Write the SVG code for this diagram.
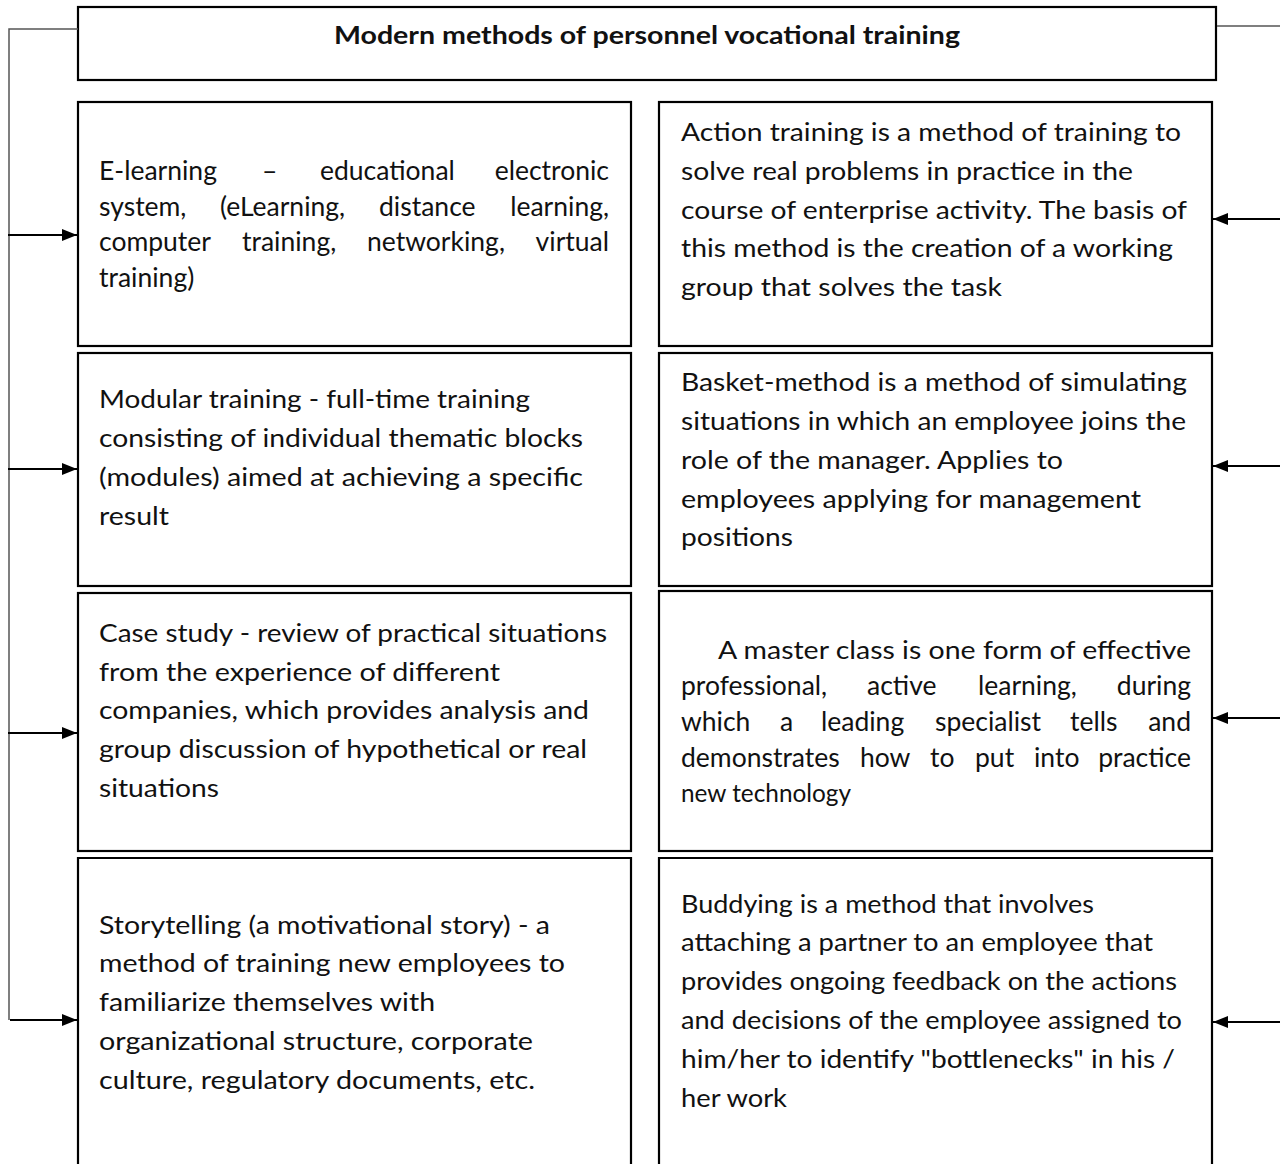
<svg xmlns="http://www.w3.org/2000/svg" width="1280" height="1164" viewBox="0 0 1280 1164">
<style>
.box{fill:#fff;stroke:#000;stroke-width:2.2}
.t{font-family:Lato,"Open Sans","Liberation Sans",sans-serif;font-size:25.5px;fill:#111}
.j{font-family:Lato,"Open Sans","Liberation Sans",sans-serif;font-size:26.5px;fill:#111}
.title{font-family:Lato,"Open Sans","Liberation Sans",sans-serif;font-size:24px;font-weight:bold;fill:#111}
.conn{stroke:#555;stroke-width:1.5;fill:none}
.arr{stroke:#000;stroke-width:2;fill:none}
</style>
<defs>
<marker id="ah" markerWidth="16" markerHeight="12" refX="15" refY="6" orient="auto" markerUnits="userSpaceOnUse">
<path d="M0,0 L15,6 L0,12 Z" fill="#000"/>
</marker>
</defs>
<rect width="1280" height="1164" fill="#fff"/>
<g id="title">
<rect class="box" x="78" y="7" width="1138" height="73"/>
<text class="title" x="647" y="44" text-anchor="middle" textLength="626" lengthAdjust="spacingAndGlyphs">Modern methods of personnel vocational training</text>
</g>
<g id="elearning">
<rect class="box" x="78" y="102" width="553" height="244"/>
<text class="j"><tspan x="99" y="180">E-learning</tspan><tspan x="262" y="180">–</tspan><tspan x="320" y="180">educational</tspan><tspan x="609" y="180" text-anchor="end">electronic</tspan></text>
<text class="j"><tspan x="99" y="216">system,</tspan><tspan x="220" y="216">(eLearning,</tspan><tspan x="379" y="216">distance</tspan><tspan x="609" y="216" text-anchor="end">learning,</tspan></text>
<text class="j"><tspan x="99" y="251">computer</tspan><tspan x="242" y="251">training,</tspan><tspan x="367" y="251">networking,</tspan><tspan x="609" y="251" text-anchor="end">virtual</tspan></text>
<text class="j" x="99" y="287">training)</text>
</g>
<g id="action">
<rect class="box" x="659" y="102" width="553" height="244"/>
<text class="t" x="681" y="141" textLength="500" lengthAdjust="spacingAndGlyphs">Action training is a method of training to</text>
<text class="t" x="681" y="180" textLength="452" lengthAdjust="spacingAndGlyphs">solve real problems in practice in the</text>
<text class="t" x="681" y="219" textLength="506" lengthAdjust="spacingAndGlyphs">course of enterprise activity. The basis of</text>
<text class="t" x="681" y="257" textLength="492" lengthAdjust="spacingAndGlyphs">this method is the creation of a working</text>
<text class="t" x="681" y="296" textLength="321" lengthAdjust="spacingAndGlyphs">group that solves the task</text>
</g>
<g id="modular">
<rect class="box" x="78" y="353" width="553" height="233"/>
<text class="t" x="99" y="408" textLength="431" lengthAdjust="spacingAndGlyphs">Modular training - full-time training</text>
<text class="t" x="99" y="447" textLength="484" lengthAdjust="spacingAndGlyphs">consisting of individual thematic blocks</text>
<text class="t" x="99" y="486" textLength="484" lengthAdjust="spacingAndGlyphs">(modules) aimed at achieving a specific</text>
<text class="t" x="99" y="525" textLength="70" lengthAdjust="spacingAndGlyphs">result</text>
</g>
<g id="basket">
<rect class="box" x="659" y="353" width="553" height="233"/>
<text class="t" x="681" y="391" textLength="506" lengthAdjust="spacingAndGlyphs">Basket-method is a method of simulating</text>
<text class="t" x="681" y="430" textLength="505" lengthAdjust="spacingAndGlyphs">situations in which an employee joins the</text>
<text class="t" x="681" y="469" textLength="382" lengthAdjust="spacingAndGlyphs">role of the manager. Applies to</text>
<text class="t" x="681" y="508" textLength="460" lengthAdjust="spacingAndGlyphs">employees applying for management</text>
<text class="t" x="681" y="546" textLength="112" lengthAdjust="spacingAndGlyphs">positions</text>
</g>
<g id="casestudy">
<rect class="box" x="78" y="593" width="553" height="258"/>
<text class="t" x="99" y="642" textLength="508" lengthAdjust="spacingAndGlyphs">Case study - review of practical situations</text>
<text class="t" x="99" y="681" textLength="401" lengthAdjust="spacingAndGlyphs">from the experience of different</text>
<text class="t" x="99" y="719" textLength="490" lengthAdjust="spacingAndGlyphs">companies, which provides analysis and</text>
<text class="t" x="99" y="758" textLength="488" lengthAdjust="spacingAndGlyphs">group discussion of hypothetical or real</text>
<text class="t" x="99" y="797" textLength="120" lengthAdjust="spacingAndGlyphs">situations</text>
</g>
<g id="masterclass">
<rect class="box" x="659" y="591" width="553" height="260"/>
<text class="t" x="718" y="659" textLength="473" lengthAdjust="spacingAndGlyphs">A master class is one form of effective</text>
<text class="j"><tspan x="681" y="695">professional,</tspan><tspan x="867" y="695">active</tspan><tspan x="978" y="695">learning,</tspan><tspan x="1191" y="695" text-anchor="end">during</tspan></text>
<text class="j"><tspan x="681" y="731">which</tspan><tspan x="780" y="731">a</tspan><tspan x="821" y="731">leading</tspan><tspan x="935" y="731">specialist</tspan><tspan x="1070" y="731">tells</tspan><tspan x="1191" y="731" text-anchor="end">and</tspan></text>
<text class="j"><tspan x="681" y="767">demonstrates</tspan><tspan x="860" y="767">how</tspan><tspan x="930" y="767">to</tspan><tspan x="975" y="767">put</tspan><tspan x="1034" y="767">into</tspan><tspan x="1191" y="767" text-anchor="end">practice</tspan></text>
<text class="t" x="681" y="802" textLength="170" lengthAdjust="spacingAndGlyphs">new technology</text>
</g>
<g id="storytelling">
<path class="box" d="M78,1170 V858 H631 V1170"/>
<text class="t" x="99" y="934" textLength="451" lengthAdjust="spacingAndGlyphs">Storytelling (a motivational story) - a</text>
<text class="t" x="99" y="972" textLength="466" lengthAdjust="spacingAndGlyphs">method of training new employees to</text>
<text class="t" x="99" y="1011" textLength="336" lengthAdjust="spacingAndGlyphs">familiarize themselves with</text>
<text class="t" x="99" y="1050" textLength="434" lengthAdjust="spacingAndGlyphs">organizational structure, corporate</text>
<text class="t" x="99" y="1089" textLength="436" lengthAdjust="spacingAndGlyphs">culture, regulatory documents, etc.</text>
</g>
<g id="buddying">
<path class="box" d="M659,1170 V858 H1212 V1170"/>
<text class="t" x="681" y="913" textLength="413" lengthAdjust="spacingAndGlyphs">Buddying is a method that involves</text>
<text class="t" x="681" y="951" textLength="472" lengthAdjust="spacingAndGlyphs">attaching a partner to an employee that</text>
<text class="t" x="681" y="990" textLength="496" lengthAdjust="spacingAndGlyphs">provides ongoing feedback on the actions</text>
<text class="t" x="681" y="1029" textLength="501" lengthAdjust="spacingAndGlyphs">and decisions of the employee assigned to</text>
<text class="t" x="681" y="1068" textLength="494" lengthAdjust="spacingAndGlyphs">him/her to identify "bottlenecks" in his /</text>
<text class="t" x="681" y="1107" textLength="106" lengthAdjust="spacingAndGlyphs">her work</text>
</g>
<g id="connectors">
<path class="conn" d="M78,29 H9 V1020"/>
<path class="conn" d="M1217,26 H1280"/>
<line class="arr" x1="8" y1="235" x2="77" y2="235" marker-end="url(#ah)"/>
<line class="arr" x1="8" y1="469" x2="77" y2="469" marker-end="url(#ah)"/>
<line class="arr" x1="8" y1="733" x2="77" y2="733" marker-end="url(#ah)"/>
<line class="arr" x1="10" y1="1020" x2="77" y2="1020" marker-end="url(#ah)"/>
<line class="arr" x1="1280" y1="219" x2="1213" y2="219" marker-end="url(#ah)"/>
<line class="arr" x1="1280" y1="466" x2="1213" y2="466" marker-end="url(#ah)"/>
<line class="arr" x1="1280" y1="718" x2="1213" y2="718" marker-end="url(#ah)"/>
<line class="arr" x1="1280" y1="1022" x2="1213" y2="1022" marker-end="url(#ah)"/>
</g>
</svg>
